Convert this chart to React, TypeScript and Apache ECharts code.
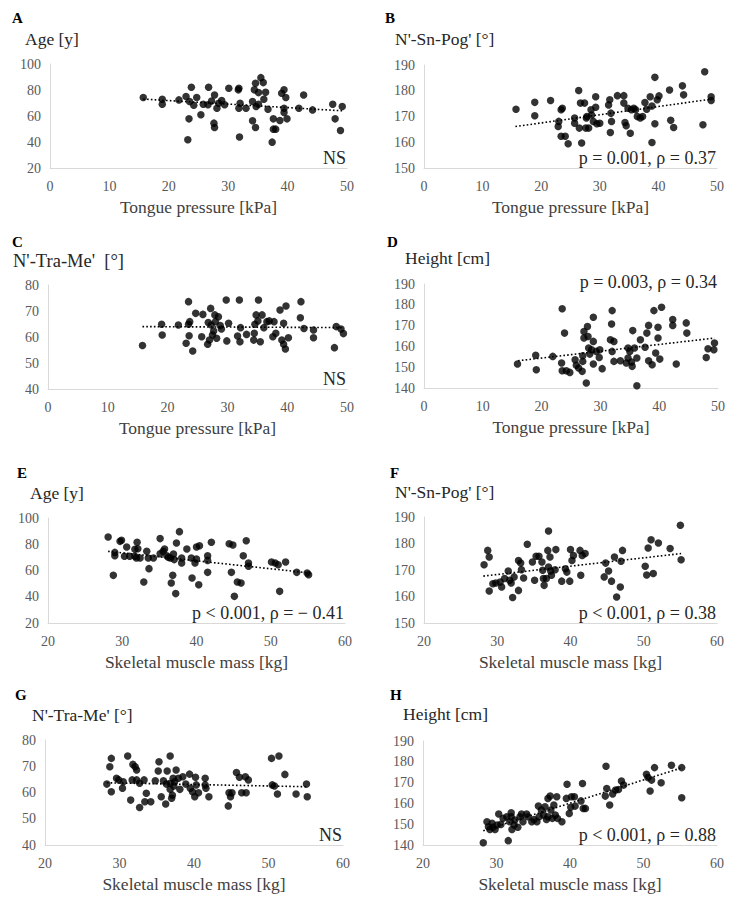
import React, { useEffect, useRef } from "react";
import * as echarts from "echarts";

type Pt = [number, number];

// ---- Tongue pressure [kPa] panels ----
const tpAge: Pt[] = [
  [15.7, 74.2], [18.9, 72.9], [18.9, 69.1], [21.7, 72.4], [22.9, 75], [23.2, 41.7], [23.4, 57.8],
  [23.8, 82.1], [23.5, 71.1], [24.2, 68.3], [24.7, 74.2], [25.4, 60.9], [25.8, 69.1], [26.7, 82.1],
  [26.6, 68.6], [27.2, 71.6], [27.7, 76.2], [27.6, 54.5], [27.7, 51.2], [28.1, 66], [28.4, 69.8],
  [28.9, 71.9], [29.4, 68.6], [30.1, 81.3], [31.7, 80.1], [31.9, 43.8], [31.8, 81.3], [31.8, 66],
  [32, 69.8], [33, 66], [34.1, 71.1], [34.1, 56.3], [34.6, 51.2], [34.6, 85.2], [34.4, 80.1],
  [34.7, 67.3], [35.1, 69.1], [35.1, 78], [35.5, 89.5], [35.9, 85.7], [36, 72.9], [36.3, 78.3],
  [36.7, 65.2], [37.4, 39.9], [37.6, 57.8], [37.6, 49.9], [38, 49.9], [38.7, 56.6], [39, 77.5],
  [39.4, 80.1], [39.4, 66], [39.4, 62.7], [39.7, 74.2], [39.9, 57.8], [41.9, 66], [42.7, 76.2],
  [44.2, 64.7], [47.6, 69.1], [48, 57.8], [48.9, 48.9], [49.2, 67.3],
];
const tpAgeTrend: Pt[] = [[15.7, 73], [49.2, 64]];

const tpSnPog: Pt[] = [
  [15.7, 172.8], [18.9, 175.5], [18.9, 170.3], [21.6, 176.2], [23.4, 172.6], [23.6, 173.2],
  [23.0, 168.1], [22.9, 166.1], [23.4, 162.3], [24.1, 162.3], [24.6, 159.4], [25.7, 169.4],
  [25.7, 167.4], [26.4, 180.1], [26.7, 175.2], [26.5, 165.5], [26.9, 159.7], [27.6, 165.5],
  [27.4, 175.2], [27.8, 170], [27.7, 169.4], [28.1, 165.5], [29.3, 177.7], [29.3, 173.6],
  [29.5, 167.2], [30.0, 167.4], [28.5, 172.6], [28.6, 170.6], [28.9, 168.1], [31.5, 174.5],
  [31.7, 176.5], [31.8, 163.8], [32.0, 168.1], [31.9, 171.3], [33.0, 178.1], [34.1, 178.1],
  [34.1, 175.2], [34.3, 167.7], [34.5, 166.4], [34.8, 173.2], [35.2, 163.5], [35.4, 172.6],
  [35.8, 173.2], [36.1, 172.6], [36.4, 170], [36.9, 169.4], [37.3, 170], [37.7, 175.4],
  [38.0, 172.8], [38.6, 177.7], [38.9, 174.1], [39.4, 185.2], [39.4, 167.2], [38.9, 159.9],
  [39.8, 176.5], [40.1, 178], [41.9, 180.3], [42.1, 168.5], [42.6, 165.7], [44.1, 181.9],
  [44.3, 178.4], [47.6, 166.8], [47.9, 187.4], [49.0, 177.7], [49.0, 176.2],
];
const tpSnPogTrend: Pt[] = [[15.6, 166.1], [48.9, 176.7]];

const tpTraMe: Pt[] = [
  [15.8, 56.7], [19.0, 64.9], [19.1, 60.8], [21.8, 64.6], [23.1, 57.6], [23.5, 73.6], [23.5, 64.9],
  [23.7, 65.9], [23.6, 60.5], [24.2, 54.6], [24.7, 69.1], [25.7, 60.1], [25.9, 68.7], [26.7, 57.2],
  [26.8, 65.6], [27.2, 71.0], [27.3, 64.6], [27.0, 58.8], [27.5, 60.8], [27.7, 62.3], [27.9, 68.5],
  [28.0, 65.9], [28.2, 59.5], [28.5, 67.8], [28.8, 64.4], [29.0, 63.1], [29.8, 74.2], [29.9, 58.5],
  [30.2, 65.3], [31.7, 60.4], [32.0, 74.2], [32.1, 58.2], [32.2, 63.6], [33.2, 61.0], [34.4, 58.8],
  [34.5, 61.4], [34.6, 64.9], [34.8, 68.5], [35.1, 66.2], [35.2, 74.2], [35.5, 58.2], [35.8, 68.5],
  [36.1, 63.6], [36.6, 65.9], [37.0, 66.2], [37.6, 60.1], [37.8, 65.9], [38.1, 61.4], [38.8, 70.4],
  [39.1, 58.8], [39.4, 57.2], [39.7, 55.4], [39.4, 65.3], [39.8, 71.9], [40.2, 59.7], [42.2, 67.4],
  [42.3, 73.6], [42.8, 63.3], [44.4, 62.7], [44.4, 59.7], [47.9, 55.9], [48.2, 64.0], [49.0, 63.1],
  [49.4, 61.3],
];
const tpTraMeTrend: Pt[] = [[15.8, 64.0], [49.4, 63.6]];

const tpHeight: Pt[] = [
  [15.9, 151.5], [19.0, 155.7], [19.1, 148.8], [21.9, 155.2], [23.4, 152.0], [23.5, 178.1],
  [23.9, 166.4], [23.5, 148.3], [24.2, 148.3], [24.8, 147.5], [25.7, 153.6], [25.9, 150.9],
  [26.3, 149.6], [26.9, 148.0], [27.0, 152.8], [27.0, 155.5], [27.2, 167.2], [27.2, 164.0],
  [27.6, 142.4], [27.8, 169.6], [27.9, 164.8], [28.0, 159.2], [28.2, 156.3], [28.5, 158.4],
  [28.8, 162.4], [28.8, 151.5], [28.8, 174.0], [29.3, 157.6], [29.8, 154.7], [29.9, 158.4],
  [30.3, 149.3], [31.7, 163.2], [32.0, 177.2], [31.9, 170.8], [32.0, 157.6], [32.3, 152.8],
  [32.3, 162.4], [33.4, 153.1], [34.4, 152.0], [34.7, 159.2], [34.7, 154.4], [35.0, 157.6],
  [35.3, 152.5], [35.4, 150.4], [35.5, 167.6], [35.8, 159.2], [36.2, 154.4], [36.2, 141.1],
  [36.8, 163.2], [37.6, 159.6], [37.9, 166.4], [38.2, 170.1], [38.2, 153.1], [38.8, 151.2],
  [39.1, 177.2], [39.4, 156.8], [39.8, 169.2], [39.8, 164.0], [40.1, 153.9], [40.4, 178.8],
  [42.3, 172.9], [42.3, 170.1], [42.9, 151.5], [44.6, 171.3], [44.7, 166.4], [48.0, 154.7],
  [48.3, 158.9], [49.4, 161.6], [49.3, 158.4],
];
const tpHeightTrend: Pt[] = [[16.0, 153.1], [49.4, 164.0]];

// ---- Skeletal muscle mass [kg] panels ----
const smAge: Pt[] = [
  [28.1, 85.5], [28.8, 56.3], [29.0, 73.8], [29.0, 71.3], [29.7, 82.2], [29.9, 83.0], [30.6, 77.9],
  [30.3, 70.8], [31.0, 70.8], [31.7, 70.8], [32.0, 81.5], [32.1, 76.6], [31.7, 76.1], [31.9, 69.5],
  [32.4, 69.5], [32.9, 51.2], [33.3, 74.6], [33.6, 61.4], [33.5, 69.5], [34.2, 69.5], [35.1, 72.8],
  [35.1, 84.3], [35.5, 74.6], [35.7, 76.4], [36.0, 71.3], [36.2, 70.0], [36.5, 69.5], [36.8, 56.3],
  [36.6, 50.5], [36.9, 72.6], [37.0, 68.3], [37.2, 42.4], [37.3, 81.0], [37.7, 89.6], [38.0, 65.7],
  [38.0, 69.5], [38.7, 76.4], [39.4, 54.3], [39.3, 69.5], [39.8, 65.7], [40.0, 68.8], [40.0, 77.9],
  [40.4, 78.9], [40.3, 49.2], [41.5, 71.3], [41.5, 67.7], [41.5, 58.6], [42.0, 81.5], [44.4, 80.4],
  [44.9, 79.4], [44.7, 58.6], [45.1, 40.3], [45.5, 51.2], [46.0, 50.5], [46.3, 71.3], [46.7, 82.7],
  [47.0, 65.7], [47.0, 63.2], [50.1, 66.5], [50.6, 65.7], [51.0, 64.4], [51.2, 44.1], [52.0, 66.5],
  [53.5, 58.6], [54.9, 58.1], [55.1, 56.8],
];
const smAgeTrend: Pt[] = [[28.1, 74.6], [55.3, 58.1]];

const smSnPog: Pt[] = [
  [28.2, 172.0], [28.7, 177.4], [28.9, 174.9], [28.9, 162.1], [29.4, 164.8], [29.8, 165.1],
  [30.4, 165.5], [30.6, 163.6], [31.0, 166.8], [31.5, 169.6], [31.7, 166.1], [31.9, 165.1],
  [32.1, 159.6], [32.3, 167.4], [32.9, 173.6], [32.9, 162.3], [33.2, 172.6], [33.3, 170.1],
  [33.6, 167.0], [34.1, 179.7], [34.8, 173.0], [35.1, 166.1], [35.3, 175.2], [35.7, 175.2],
  [36.1, 173.0], [36.2, 169.9], [36.3, 166.8], [36.4, 164.2], [36.7, 166.8], [36.9, 177.4],
  [37.0, 184.7], [37.0, 171.1], [37.2, 174.9], [37.3, 169.6], [37.4, 168.0], [38.0, 177.7],
  [37.9, 170.1], [38.8, 165.8], [39.3, 170.5], [39.5, 169.2], [39.9, 165.8], [40.0, 177.7],
  [40.2, 173.6], [40.4, 175.5], [41.4, 168.0], [41.3, 177.4], [41.6, 175.5], [42.0, 176.2],
  [44.6, 167.4], [44.8, 172.6], [45.2, 169.6], [45.6, 165.8], [46.0, 174.9], [46.3, 159.8],
  [46.8, 163.6], [46.9, 173.3], [47.1, 177.4], [50.2, 171.4], [50.4, 168.1], [50.6, 178.3],
  [51.0, 181.4], [51.3, 168.7], [52.0, 180.2], [53.6, 178.1], [55.0, 186.9], [55.1, 173.9],
];
const smSnPogTrend: Pt[] = [[28.1, 167.7], [55.1, 176.2]];

const smTraMe: Pt[] = [
  [28.3, 63.2], [28.7, 69.8], [28.9, 73.0], [28.9, 60.3], [29.6, 65.4], [29.9, 64.8], [30.5, 64.1],
  [30.4, 61.6], [31.1, 73.9], [31.5, 57.1], [31.7, 64.8], [31.8, 70.7], [32.1, 69.8], [32.3, 68.6],
  [32.3, 64.8], [32.7, 63.5], [32.7, 54.3], [33.3, 64.8], [33.4, 56.5], [33.6, 59.7], [34.2, 56.5],
  [34.8, 64.5], [35.2, 68.2], [35.3, 71.7], [35.6, 58.4], [35.9, 64.5], [36.2, 55.6], [36.3, 63.2],
  [36.4, 68.2], [36.8, 73.9], [36.8, 63.5], [36.8, 61.2], [37.0, 57.8], [37.1, 59.0], [37.2, 65.4],
  [37.3, 62.5], [37.4, 64.1], [37.6, 68.6], [37.9, 65.4], [38.1, 61.2], [38.5, 66.0], [38.9, 63.2],
  [39.4, 67.0], [39.5, 61.6], [39.8, 60.3], [40.1, 58.4], [40.2, 65.8], [40.3, 62.9], [40.6, 59.9],
  [41.5, 65.4], [41.5, 62.9], [41.6, 61.6], [42.0, 58.4], [44.6, 54.9], [44.7, 59.9], [44.9, 58.4],
  [45.1, 59.9], [45.7, 67.6], [46.1, 65.8], [46.4, 59.9], [46.9, 66.0], [47.0, 59.9], [47.3, 64.8],
  [50.4, 73.0], [50.5, 62.9], [50.8, 62.5], [51.2, 59.4], [51.4, 73.9], [52.2, 66.9], [53.7, 59.4],
  [55.1, 63.2], [55.2, 58.4],
];
const smTraMeTrend: Pt[] = [[28.3, 63.7], [55.2, 62.2]];

const smHeight: Pt[] = [
  [28.2, 141.1], [28.7, 151.2], [28.9, 148.8], [29.1, 147.5], [29.4, 150.4], [29.5, 148.5],
  [29.8, 147.5], [30.1, 149.6], [30.3, 154.9], [30.6, 149.9], [30.9, 152.8], [31.4, 153.6],
  [31.6, 142.1], [31.8, 151.2], [32.0, 155.5], [32.0, 153.6], [32.1, 147.5], [32.4, 149.6],
  [32.5, 152.0], [32.9, 148.5], [33.2, 153.6], [33.4, 154.9], [33.6, 151.2], [34.1, 154.9],
  [34.3, 153.6], [34.8, 151.2], [35.1, 152.3], [35.5, 151.2], [35.7, 158.7], [35.8, 153.6],
  [36.1, 156.8], [36.4, 154.4], [36.6, 158.4], [36.8, 152.3], [37.0, 153.6], [37.0, 162.4],
  [37.3, 163.5], [37.4, 156.8], [37.6, 152.8], [37.8, 159.2], [38.0, 154.4], [38.2, 163.2],
  [38.3, 152.8], [38.9, 151.2], [39.6, 169.2], [39.5, 162.4], [39.9, 155.2], [40.1, 158.1],
  [40.2, 163.2], [40.6, 163.2], [40.7, 158.7], [41.5, 161.2], [41.7, 169.6], [41.8, 157.6],
  [42.1, 157.6], [44.8, 163.5], [44.9, 177.9], [45.0, 167.2], [45.4, 159.2], [45.8, 164.5],
  [46.2, 166.4], [46.6, 166.7], [47.0, 170.8], [47.3, 168.8], [50.4, 174.0], [50.6, 172.4],
  [50.9, 166.0], [51.1, 171.2], [51.5, 177.2], [52.4, 169.9], [53.8, 178.3], [55.2, 177.2],
  [55.2, 162.7],
];
const smHeightTrend: Pt[] = [[28.2, 146.9], [55.2, 177.1]];

// Axis ranges
const tpRange = { min: 0, max: 50, interval: 10 };
const smRange = { min: 20, max: 60, interval: 10 };
const ageRange = { min: 20, max: 100, interval: 20 };
const snPogRange = { min: 150, max: 190, interval: 10 };
const traMeRange = { min: 40, max: 80, interval: 10 };
const heightRange = { min: 140, max: 190, interval: 10 };

const tpLabel = "Tongue pressure [kPa]";
const smLabel = "Skeletal muscle mass [kg]";

const SERIF = "Liberation Serif";

interface Panel {
  letter: string;
  yName: string;
  yNameSize: number;
  xName: string;
  xr: { min: number; max: number; interval: number };
  yr: { min: number; max: number; interval: number };
  points: Pt[];
  trend: Pt[];
  note: string;
  noteTop: boolean;
  // layout
  left: number;
  top: number;
  width: number;
  height: number;
  letterPos: [number, number];
  yNamePos: [number, number];
}

const panels: Panel[] = [
  { letter: "A", yName: "Age [y]", yNameSize: 17.5, xName: tpLabel, xr: tpRange, yr: ageRange, points: tpAge, trend: tpAgeTrend, note: "NS", noteTop: false,
    left: 50, top: 64, width: 297, height: 104, letterPos: [12, 18], yNamePos: [25, 39] },
  { letter: "B", yName: "N'-Sn-Pog' [°]", yNameSize: 17.5, xName: tpLabel, xr: tpRange, yr: snPogRange, points: tpSnPog, trend: tpSnPogTrend, note: "p = 0.001, ρ = 0.37", noteTop: false,
    left: 424, top: 65, width: 293, height: 103, letterPos: [385, 18], yNamePos: [395, 39] },
  { letter: "C", yName: "N'-Tra-Me'  [°]", yNameSize: 18.5, xName: tpLabel, xr: tpRange, yr: traMeRange, points: tpTraMe, trend: tpTraMeTrend, note: "NS", noteTop: false,
    left: 48, top: 285, width: 299, height: 104, letterPos: [12, 242], yNamePos: [13, 261] },
  { letter: "D", yName: "Height [cm]", yNameSize: 17.5, xName: tpLabel, xr: tpRange, yr: heightRange, points: tpHeight, trend: tpHeightTrend, note: "p = 0.003, ρ = 0.34", noteTop: true,
    left: 424, top: 284, width: 294, height: 104, letterPos: [387, 242], yNamePos: [405, 258] },
  { letter: "E", yName: "Age [y]", yNameSize: 17.5, xName: smLabel, xr: smRange, yr: ageRange, points: smAge, trend: smAgeTrend, note: "p < 0.001, ρ = − 0.41", noteTop: false,
    left: 48, top: 518, width: 297, height: 105, letterPos: [17, 473], yNamePos: [30, 493] },
  { letter: "F", yName: "N'-Sn-Pog' [°]", yNameSize: 17.5, xName: smLabel, xr: smRange, yr: snPogRange, points: smSnPog, trend: smSnPogTrend, note: "p < 0.001, ρ = 0.38", noteTop: false,
    left: 424, top: 517, width: 293, height: 106, letterPos: [390, 473], yNamePos: [395, 492] },
  { letter: "G", yName: "N'-Tra-Me' [°]", yNameSize: 17.5, xName: smLabel, xr: smRange, yr: traMeRange, points: smTraMe, trend: smTraMeTrend, note: "NS", noteTop: false,
    left: 45, top: 740, width: 298, height: 105, letterPos: [15, 695], yNamePos: [32, 715] },
  { letter: "H", yName: "Height [cm]", yNameSize: 17.5, xName: smLabel, xr: smRange, yr: heightRange, points: smHeight, trend: smHeightTrend, note: "p < 0.001, ρ = 0.88", noteTop: false,
    left: 423, top: 741, width: 294, height: 104, letterPos: [390, 695], yNamePos: [403, 714] },
];

function buildOption(): echarts.EChartsOption {
  const grid: any[] = [];
  const xAxis: any[] = [];
  const yAxis: any[] = [];
  const series: any[] = [];
  const graphic: any[] = [];

  panels.forEach((p, i) => {
    grid.push({ left: p.left, top: p.top, width: p.width, height: p.height, containLabel: false });
    xAxis.push({
      gridIndex: i,
      type: "value",
      min: p.xr.min,
      max: p.xr.max,
      interval: p.xr.interval,
      name: p.xName,
      nameLocation: "middle",
      nameGap: 30,
      nameTextStyle: { fontFamily: SERIF, fontSize: 17.5, color: "#404040" },
      axisLine: { show: true, lineStyle: { color: "#d9d9d9", width: 1 } },
      axisTick: { show: false },
      splitLine: { show: false },
      axisLabel: { fontFamily: SERIF, fontSize: 14, color: "#595959", margin: 11 },
    });
    yAxis.push({
      gridIndex: i,
      type: "value",
      min: p.yr.min,
      max: p.yr.max,
      interval: p.yr.interval,
      axisLine: { show: true, lineStyle: { color: "#d9d9d9", width: 1 } },
      axisTick: { show: false },
      splitLine: { show: false },
      axisLabel: { fontFamily: SERIF, fontSize: 14, color: "#595959", margin: 9 },
    });
    series.push({
      type: "scatter",
      xAxisIndex: i,
      yAxisIndex: i,
      data: p.points,
      symbol: "circle",
      symbolSize: 7.5,
      itemStyle: { color: "#000000" },
      z: 3,
    });
    series.push({
      type: "line",
      xAxisIndex: i,
      yAxisIndex: i,
      data: p.trend,
      symbol: "none",
      lineStyle: { color: "#000000", width: 1.6, type: [1.6, 2.2] },
      z: 4,
    });

    graphic.push({
      type: "text",
      left: p.letterPos[0],
      top: p.letterPos[1] - 8,
      style: { text: p.letter, fontFamily: SERIF, fontSize: 15, fontWeight: "bold", fill: "#000000" },
    });
    graphic.push({
      type: "text",
      left: p.yNamePos[0],
      top: p.yNamePos[1] - p.yNameSize / 2,
      style: { text: p.yName, fontFamily: SERIF, fontSize: p.yNameSize, fill: "#262626" },
    });
    const noteY = p.noteTop ? p.top - 2.5 : p.top + p.height - 10;
    graphic.push({
      type: "text",
      x: p.left + p.width - 1,
      y: noteY,
      style: {
        text: p.note,
        fontFamily: SERIF,
        fontSize: 18,
        fill: "#262626",
        align: "right",
        verticalAlign: "middle",
      },
    });
  });

  return {
    animation: false,
    backgroundColor: "#ffffff",
    textStyle: { fontFamily: SERIF },
    grid,
    xAxis,
    yAxis,
    series,
    graphic,
  };
}

export default function App() {
  const ref = useRef<HTMLDivElement>(null);

  useEffect(() => {
    if (!ref.current) return;
    const chart = echarts.init(ref.current, undefined, { renderer: "svg" });
    chart.setOption(buildOption());
    return () => chart.dispose();
  }, []);

  return (
    <div
      ref={ref}
      style={{ position: "absolute", left: 0, top: 0, width: 750, height: 903, background: "#ffffff" }}
    />
  );
}
